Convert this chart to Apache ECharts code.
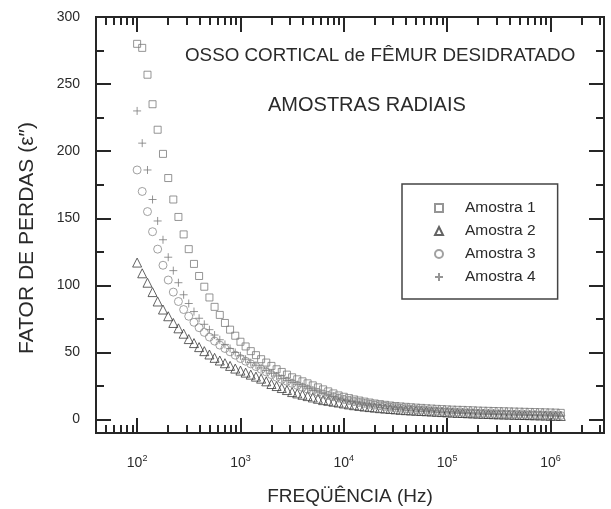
<!DOCTYPE html>
<html>
<head>
<meta charset="utf-8">
<script src="https://cdn.jsdelivr.net/npm/echarts@6/dist/echarts.min.js"></script>
<style>
  html, body { margin: 0; padding: 0; background: #fff; }
  #main { width: 611px; height: 509px; }
</style>
</head>
<body>
<div id="main"></div>
<script>
// frequências (Hz)
const freq = [
  100, 112, 126, 141, 158, 178, 200, 224, 251, 282,
  316, 355, 398, 447, 501, 562, 631, 708, 794, 891,
  1000, 1122, 1259, 1413, 1585, 1778, 1995, 2239, 2512, 2818,
  3162, 3548, 3981, 4467, 5012, 5623, 6310, 7079, 7943, 8913,
  10000, 11220, 12590, 14130, 15850, 17780, 19950, 22390, 25120, 28180,
  31620, 35480, 39810, 44670, 50120, 56230, 63100, 70790, 79430, 89130,
  100000, 112200, 125900, 141300, 158500, 177800, 199500, 223900, 251200, 281800,
  316200, 354800, 398100, 446700, 501200, 562300, 631000, 707900, 794300, 891300,
  1000000, 1122000, 1259000
];

const amostra1 = [
  280, 277, 257, 235, 216, 198, 180, 164, 151, 138,
  127, 116, 107, 99, 91, 84, 78, 72, 67, 62.5,
  58, 54.5, 51, 48, 45, 42.5, 40, 37.5, 35.5, 33.5,
  31.5, 30, 28.5, 27, 25.5, 24, 22.5, 21, 19.5, 18,
  17, 16, 15, 14.2, 13.4, 12.7, 12, 11.5, 11, 10.5,
  10.1, 9.8, 9.5, 9.2, 8.9, 8.7, 8.4, 8.2, 8.0, 7.8,
  7.6, 7.4, 7.3, 7.2, 7.0, 6.9, 6.7, 6.6, 6.5, 6.4,
  6.3, 6.2, 6.1, 6.0, 5.9, 5.8, 5.7, 5.6, 5.5, 5.4,
  5.3, 5.2, 5.0
];

const amostra2 = [
  117, 109, 102, 95, 88, 82, 77, 72, 68, 64,
  60, 57, 54, 51, 48.5, 46, 44, 42, 40, 38,
  36.5, 35, 33.5, 32, 30.5, 28.5, 26.5, 25, 23.5, 22,
  20.5, 19.5, 18.5, 17.5, 16.5, 15.5, 14.5, 14, 13.3, 12.7,
  12, 11.3, 10.7, 10.2, 9.7, 9.3, 8.9, 8.5, 8.2, 7.9,
  7.6, 7.3, 7.0, 6.8, 6.6, 6.4, 6.2, 6.0, 5.8, 5.6,
  5.4, 5.2, 5.0, 4.9, 4.7, 4.6, 4.4, 4.3, 4.2, 4.0,
  3.9, 3.8, 3.7, 3.6, 3.5, 3.4, 3.3, 3.2, 3.1, 3.0,
  2.9, 2.8, 2.7
];

const amostra3 = [
  186, 170, 155, 140, 127, 115, 104, 95, 88, 82,
  77, 72.5, 68.5, 65, 61.5, 58.5, 55.5, 53, 50.5, 48,
  45.5, 43.5, 41.5, 39.5, 37.5, 35.5, 33.5, 31.5, 30, 28.5,
  27, 25.5, 24, 22.7, 21.4, 20.2, 19, 18, 17, 16,
  15, 14.2, 13.4, 12.7, 12, 11.4, 10.8, 10.3, 9.8, 9.3,
  8.9, 8.5, 8.1, 7.7, 7.4, 7.1, 6.8, 6.5, 6.3, 6.0,
  5.8, 5.6, 5.4, 5.2, 5.0, 4.9, 4.7, 4.6, 4.4, 4.3,
  4.2, 4.1, 4.0, 3.9, 3.8, 3.7, 3.6, 3.5, 3.4, 3.3,
  3.2, 3.1, 3.0
];

const amostra4 = [
  230, 206, 186, 164, 148, 134, 121, 111, 102, 93,
  86.5, 80.5, 75.5, 71, 67, 63, 59.5, 56, 53, 50,
  47.5, 45, 42.5, 40.5, 38.5, 36.5, 34.5, 32.5, 30.5, 29,
  27.5, 26, 24.5, 23, 21.7, 20.5, 19.3, 18.2, 17.2, 16.2,
  15.3, 14.5, 13.7, 13, 12.3, 11.7, 11.1, 10.6, 10.1, 9.6,
  9.2, 8.8, 8.4, 8.0, 7.7, 7.4, 7.1, 6.8, 6.6, 6.3,
  6.1, 5.9, 5.7, 5.5, 5.3, 5.1, 5.0, 4.8, 4.7, 4.5,
  4.4, 4.3, 4.2, 4.1, 4.0, 3.9, 3.8, 3.7, 3.6, 3.5,
  3.4, 3.3, 3.2
];

const seriesNames = ['Amostra 1', 'Amostra 2', 'Amostra 3', 'Amostra 4'];

// marcas dos eixos
const xMajor = [100, 1000, 10000, 100000, 1000000];
const xMinor = [
  50, 60, 70, 80, 90,
  200, 300, 400, 500, 600, 700, 800, 900,
  2000, 3000, 4000, 5000, 6000, 7000, 8000, 9000,
  20000, 30000, 40000, 50000, 60000, 70000, 80000, 90000,
  200000, 300000, 400000, 500000, 600000, 700000, 800000, 900000,
  2000000, 3000000
];
const yMajor = [0, 50, 100, 150, 200, 250, 300];
const yMinor = [25, 75, 125, 175, 225, 275];

const axisColor = '#262626';
const textColor = '#2a2a2a';
const font = 'Arial, "Liberation Sans", sans-serif';

const myChart = echarts.init(document.getElementById('main'));

function xAxisDef(pos, ticks, len, withLabels) {
  return {
    type: 'log',
    position: pos,
    min: 40,
    max: 3300000,
    axisLine: { show: true, onZero: false, lineStyle: { color: axisColor, width: 2 } },
    axisTick: { show: true, inside: true, length: len, customValues: ticks, lineStyle: { color: axisColor, width: 2 } },
    axisLabel: withLabels ? {
      show: true,
      customValues: xMajor,
      margin: 21,
      formatter: v => '{b|10}{s|' + Math.round(Math.log10(v)) + '}',
      rich: {
        b: { fontSize: 14, fontFamily: font, color: textColor },
        s: { fontSize: 9, fontFamily: font, color: textColor, padding: [0, 0, 9, 0] }
      }
    } : { show: false },
    splitLine: { show: false },
    name: withLabels ? 'FREQÜÊNCIA (Hz)' : '',
    nameLocation: 'middle',
    nameGap: 54,
    nameTextStyle: { fontSize: 19, fontFamily: font, color: textColor }
  };
}

function yAxisDef(pos, ticks, len, withLabels) {
  return {
    type: 'value',
    position: pos,
    min: -10,
    max: 300,
    axisLine: { show: true, onZero: false, lineStyle: { color: axisColor, width: 2 } },
    axisTick: { show: true, inside: true, length: len, customValues: ticks, lineStyle: { color: axisColor, width: 2 } },
    axisLabel: withLabels ? {
      show: true,
      customValues: yMajor,
      margin: 16,
      fontSize: 14,
      fontFamily: font,
      color: textColor
    } : { show: false },
    splitLine: { show: false },
    name: withLabels ? 'FATOR DE PERDAS (ε″)' : '',
    nameLocation: 'middle',
    nameGap: 58,
    nameRotate: 90,
    nameTextStyle: { fontSize: 21, fontFamily: font, color: textColor, padding: [0, 26, 0, 0] }
  };
}

const hollow = c => ({ color: 'rgba(0,0,0,0)', borderColor: c, borderWidth: 1 });

myChart.setOption({
  backgroundColor: '#fff',
  animation: false,
  grid: { left: 96, top: 17, right: 7, bottom: 76, outerBoundsMode: 'none' },
  xAxis: [
    xAxisDef('bottom', xMajor, 15, true),
    xAxisDef('bottom', xMinor, 8, false),
    xAxisDef('top', xMajor, 15, false),
    xAxisDef('top', xMinor, 8, false)
  ],
  yAxis: [
    yAxisDef('left', yMajor, 15, true),
    yAxisDef('left', yMinor, 8, false),
    yAxisDef('right', yMajor, 15, false),
    yAxisDef('right', yMinor, 8, false)
  ],
  legend: {
    orient: 'vertical',
    left: 402,
    top: 184,
    padding: [16, 22, 14, 32],
    itemWidth: 8,
    itemHeight: 8,
    itemGap: 7,
    borderColor: '#444',
    borderWidth: 1.5,
    formatter: name => '{sp|}{t|' + name + '}',
    textStyle: {
      rich: {
        sp: { width: 17 },
        t: { fontSize: 15.5, fontFamily: font, color: textColor }
      }
    },
    data: seriesNames
  },
  graphic: [
    {
      type: 'text', left: 185, top: 46,
      style: { text: 'OSSO CORTICAL de FÊMUR DESIDRATADO', font: '18.8px ' + font, fill: textColor }
    },
    {
      type: 'text', left: 268, top: 95,
      style: { text: 'AMOSTRAS RADIAIS', font: '20px ' + font, fill: textColor }
    }
  ],
  series: [
    {
      name: seriesNames[0], type: 'scatter', symbol: 'rect', symbolSize: 7, symbolKeepAspect: true,
      itemStyle: hollow('#7a7a7a'),
      data: freq.map((f, i) => [f, amostra1[i]])
    },
    {
      name: seriesNames[1], type: 'scatter', symbol: 'triangle', symbolSize: 9, symbolKeepAspect: true,
      itemStyle: hollow('#3c3c3c'),
      data: freq.map((f, i) => [f, amostra2[i]])
    },
    {
      name: seriesNames[2], type: 'scatter', symbol: 'circle', symbolSize: 8, symbolKeepAspect: true,
      itemStyle: hollow('#8a8a8a'),
      data: freq.map((f, i) => [f, amostra3[i]])
    },
    {
      name: seriesNames[3], type: 'scatter', symbol: 'path://M5,0L5,10M0,5L10,5', symbolSize: 8, symbolKeepAspect: true,
      itemStyle: hollow('#7a7a7a'),
      data: freq.map((f, i) => [f, amostra4[i]])
    }
  ]
});

window.addEventListener('resize', () => {
  myChart.resize();
});
</script>
</body>
</html>
